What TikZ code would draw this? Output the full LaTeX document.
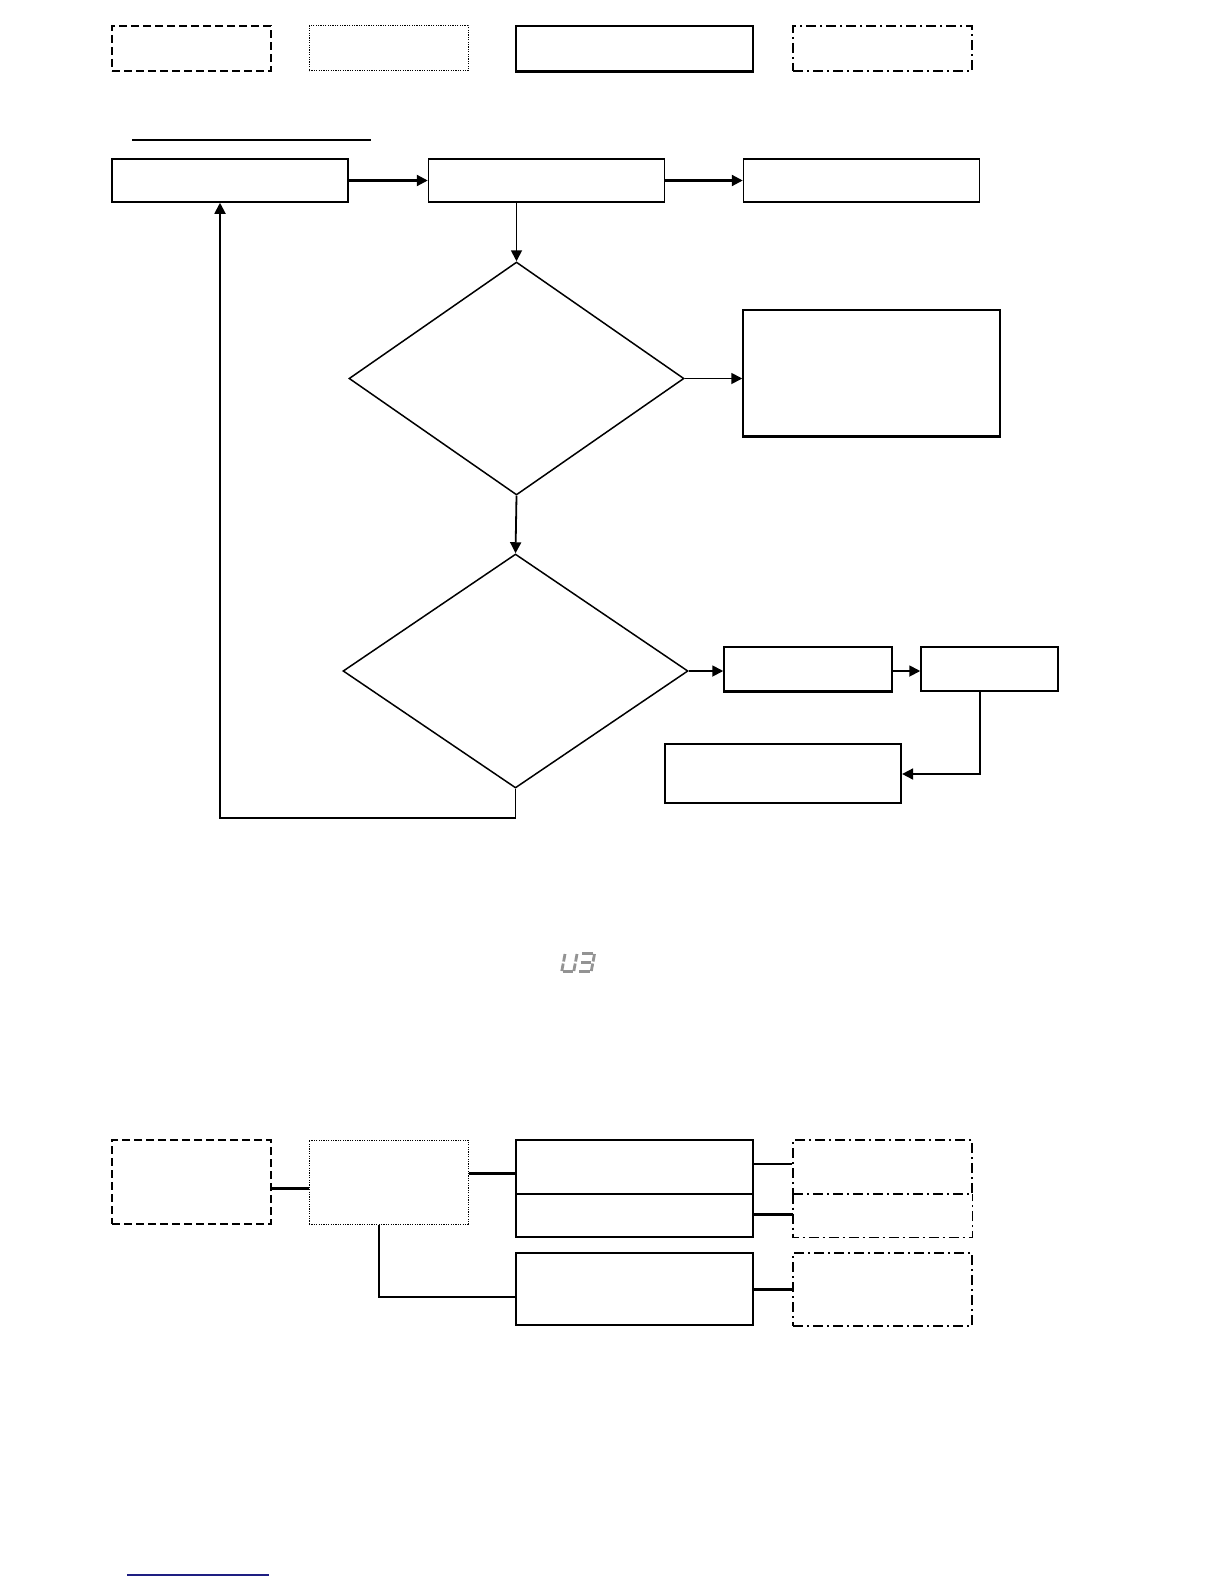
\documentclass[tikz,border=0pt]{standalone}
\usetikzlibrary{arrows.meta,shapes.geometric}
\definecolor{linkblue}{RGB}{30,30,130}
\begin{document}
\begin{tikzpicture}[x=0.5pt,y=-0.5pt,
  box/.style={draw,rectangle,inner sep=0pt,line width=0.75pt},
  dashbox/.style={box,line width=1pt,dash pattern=on 4pt off 2pt},
  dotbox/.style={box,line width=0.5pt,dash pattern=on 0.6pt off 0.6pt},
  dashdotbox/.style={box,line width=0.9pt,dash pattern=on 5pt off 2pt on 1pt off 2pt},
  dashdotline/.style={line width=0.9pt,dash pattern=on 5pt off 2pt on 1pt off 2pt},
  decision/.style={draw,diamond,inner sep=0pt,line width=0.75pt},
  arr/.style={-{Triangle[length=5.5pt,width=5.5pt]},line width=0.9pt},
  conn/.style={line width=0.75pt},
  thickconn/.style={line width=1.5pt},
  seg/.style={draw=gray!85,line width=1.4pt}]
\useasboundingbox[fill=white] (0,0) rectangle (1224,1584);

% legend row
\node[dashbox,minimum width=79.5pt,minimum height=22.5pt] (l1) at (191.5,48.5) {};
\node[dotbox,minimum width=79.5pt,minimum height=22.5pt] (l2) at (388.5,48.5) {};
\node[box,minimum width=118.5pt,minimum height=22.5pt] (l3) at (634.5,48.5) {};
\draw[line width=1.6pt] (l3.south west) -- (l3.south east);
\node[dashdotbox,minimum width=89.5pt,minimum height=22.5pt] (l4) at (882.5,48.5) {};

% underline
\coordinate (u1) at (132,140);
\coordinate (u2) at (371,140);
\draw[line width=1.4pt] (u1) -- (u2);

% flow chart
\node[box,minimum width=118pt,minimum height=21.5pt] (A) at (230,180.5) {};
\node[box,minimum width=118pt,minimum height=21.5pt] (B) at (546.5,180.5) {};
\node[box,minimum width=118pt,minimum height=21.5pt] (C) at (861.5,180.5) {};
\node[decision,minimum width=167.5pt,minimum height=116.5pt] (d1) at (516.5,378.5) {};
\node[box,minimum width=128.5pt,minimum height=63pt] (D) at (871.5,373) {};
\draw[line width=1.6pt] (D.south west) -- (D.south east);
\node[decision,minimum width=172.5pt,minimum height=117pt] (d2) at (515.5,671) {};
\node[box,minimum width=84pt,minimum height=22pt] (E) at (808,669) {};
\draw[line width=1.6pt] (E.south west) -- (E.south east);
\node[box,minimum width=68.5pt,minimum height=22pt] (F) at (989.5,669) {};
\node[box,line width=1.1pt,minimum width=118pt,minimum height=29.5pt] (G) at (783,773.5) {};

\draw[arr,line width=1.1pt] (A.east) -- (B.west);
\draw[arr,line width=1.1pt] (B.east) -- (C.west);
\draw[arr] (B.south -| d1.north) -- (d1.north);
\draw[arr] (d1.east) -- (d1.east -| D.west);
\draw[arr] (d1.south) -- (d2.north);
\draw[arr] (d2.east) -- (d2.east -| E.west);
\draw[arr] (E.east |- d2.east) -- (F.west |- d2.east);
\coordinate (fo) at (980,774);
\draw[arr] (F.south -| fo) -- (fo) -- (fo -| G.east);
\coordinate (lb) at (220,818);
\draw[arr] (d2.south) -- (d2.south |- lb) -- (lb) -- (lb |- A.south);

% U3 seven-segment glyph
\draw[seg] (565,954) -- (563.6,961.5);
\draw[seg] (563.2,963.5) -- (561.8,971);
\draw[seg] (563,971.5) -- (573,971.5);
\draw[seg] (577,954) -- (575.6,961.5);
\draw[seg] (575.2,963.5) -- (573.8,971);
\draw[seg] (582,953.5) -- (593,953.5);
\draw[seg] (581,962.5) -- (591,962.5);
\draw[seg] (579,971.5) -- (590,971.5);
\draw[seg] (594.5,954) -- (593.1,961.5);
\draw[seg] (592.7,963.5) -- (591.3,971);

% bottom structure
\node[dashbox,minimum width=79.5pt,minimum height=42pt] (H) at (191.5,1182) {};
\node[dotbox,minimum width=79.5pt,minimum height=42pt] (I) at (388.5,1182) {};
\node[box,minimum width=118.5pt,minimum height=27pt] (J) at (634.5,1167) {};
\node[box,minimum width=118.5pt,minimum height=21.5pt] (K) at (634.5,1215.5) {};
\node[box,minimum width=118.5pt,minimum height=36pt] (L) at (634.5,1289) {};
\node[dashdotbox,minimum width=89.5pt,minimum height=27pt] (M) at (882.5,1167) {};
\node[inner sep=0pt,minimum width=89.5pt,minimum height=21.5pt] (N) at (882.5,1215.5) {};
\draw[dashdotline] (N.north west) -- (N.south west) -- (N.south east) -- (N.north east);
\node[dashdotbox,minimum width=89.5pt,minimum height=36.5pt] (O) at (882.5,1289.5) {};

\coordinate (hi) at (0,1188);
\draw[thickconn] (H.east |- hi) -- (I.west |- hi);
\coordinate (ij) at (0,1173);
\draw[thickconn] (I.east |- ij) -- (J.west |- ij);
\coordinate (il) at (379,1297);
\draw[conn] (I.south -| il) -- (il) -- (il -| L.west);
\coordinate (jm) at (0,1164);
\draw[conn] (J.east |- jm) -- (M.west |- jm);
\coordinate (kn) at (0,1214);
\draw[thickconn] (K.east |- kn) -- (N.west |- kn);
\draw[thickconn] (L.east) -- (O.west |- L.east);

% link underline
\coordinate (b1) at (127,1575);
\coordinate (b2) at (269,1575);
\draw[linkblue,line width=1pt] (b1) -- (b2);
\end{tikzpicture}
\end{document}
